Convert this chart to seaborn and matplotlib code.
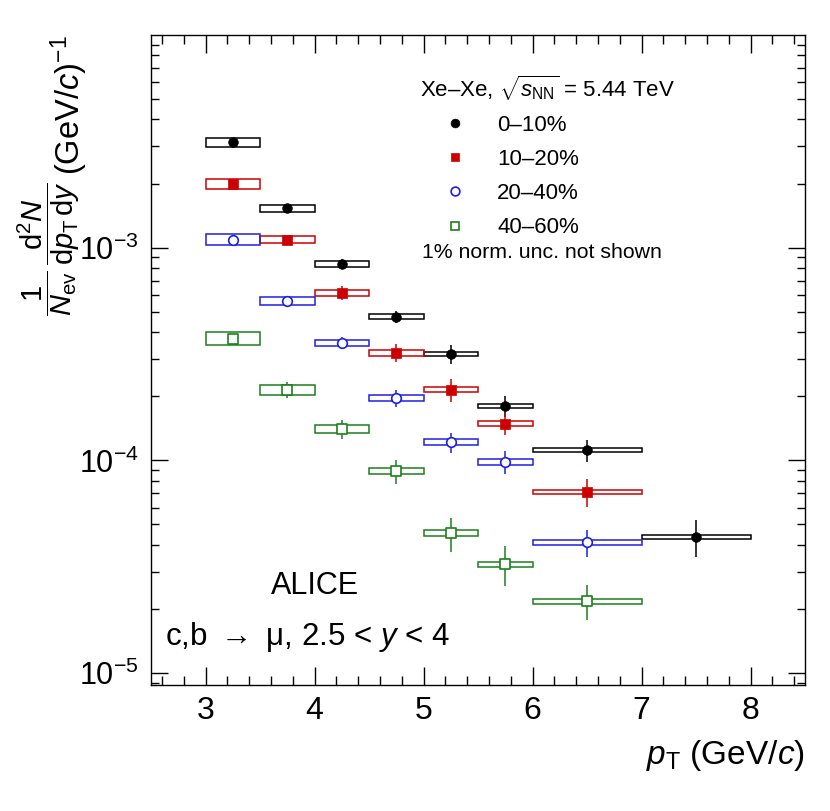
import seaborn as sns
import matplotlib
matplotlib.use("Agg")
import matplotlib.pyplot as plt
from matplotlib.patches import Rectangle
from matplotlib.lines import Line2D
from matplotlib.ticker import MultipleLocator, LogLocator, NullFormatter
import numpy as np
import pandas as pd

# pT bins (GeV/c)
bin_lo = [3.0, 3.5, 4.0, 4.5, 5.0, 5.5, 6.0, 7.0]
bin_hi = [3.5, 4.0, 4.5, 5.0, 5.5, 6.0, 7.0, 8.0]
pt_mid = [3.25, 3.75, 4.25, 4.75, 5.25, 5.75, 6.5, 7.5]

# yields per centrality class
y_0_10 = [3.12e-3, 1.53e-3, 8.4e-4, 4.73e-4, 3.17e-4, 1.80e-4, 1.12e-4, 4.37e-5]
y_10_20 = [2.0e-3, 1.09e-3, 6.14e-4, 3.2e-4, 2.15e-4, 1.485e-4, 7.1e-5]
y_20_40 = [1.09e-3, 5.63e-4, 3.57e-4, 1.97e-4, 1.22e-4, 9.85e-5, 4.13e-5]
y_40_60 = [3.73e-4, 2.15e-4, 1.41e-4, 8.93e-5, 4.56e-5, 3.26e-5, 2.18e-5]

# relative statistical uncertainties
stat_0_10 = [0.032, 0.043, 0.054, 0.070, 0.103, 0.113, 0.119, 0.197]
stat_10_20 = [0.032, 0.043, 0.076, 0.097, 0.124, 0.113, 0.150]
stat_20_40 = [0.032, 0.043, 0.070, 0.092, 0.108, 0.124, 0.145]
stat_40_60 = [0.043, 0.085, 0.104, 0.129, 0.182, 0.213, 0.187]

# relative systematic uncertainties
sys_0_10 = [0.051, 0.035, 0.031, 0.027, 0.024, 0.024, 0.022, 0.022]
sys_10_20 = [0.056, 0.039, 0.031, 0.031, 0.027, 0.027, 0.024]
sys_20_40 = [0.058, 0.043, 0.036, 0.033, 0.031, 0.031, 0.026]
sys_40_60 = [0.070, 0.054, 0.043, 0.036, 0.033, 0.027, 0.027]

labels = ["0–10%", "10–20%", "20–40%", "40–60%"]
colors = ["black", "#cc0000", "#1f1fe0", "#1b7f1b"]
markers = ["o", "s", "o", "s"]
filled = [True, True, False, False]

yields = [y_0_10, y_10_20, y_20_40, y_40_60]
stats = [stat_0_10, stat_10_20, stat_20_40, stat_40_60]
syss = [sys_0_10, sys_10_20, sys_20_40, sys_40_60]

rows = []
for lab, yy, st, sy in zip(labels, yields, stats, syss):
    for i in range(len(yy)):
        rows.append(dict(cent=lab, pt=pt_mid[i], lo=bin_lo[i], hi=bin_hi[i],
                         y=yy[i], stat=st[i] * yy[i], sys=sy[i] * yy[i]))
df = pd.DataFrame(rows)

sns.set_theme(style="ticks")
plt.rcParams['font.family'] = ['Liberation Sans', 'DejaVu Sans']
plt.rcParams['mathtext.fontset'] = 'custom'
plt.rcParams['mathtext.rm'] = 'Liberation Sans'
plt.rcParams['mathtext.it'] = 'Liberation Sans:italic'
plt.rcParams['mathtext.bf'] = 'Liberation Sans:bold'
for k in ['text.color', 'axes.labelcolor', 'xtick.color', 'ytick.color', 'axes.edgecolor']:
    plt.rcParams[k] = 'black'

fig = plt.figure(figsize=(8.3, 8.11), dpi=100)
ax = fig.add_axes([151/830, 1-685/811, 654/830, 650/811])

for lab, c, m, f in zip(labels, colors, markers, filled):
    d = df[df.cent == lab]
    # systematic boxes
    for _, r in d.iterrows():
        ax.add_patch(Rectangle((r.lo, r.y - r.sys), r.hi - r.lo, 2 * r.sys,
                               fill=False, edgecolor=c, linewidth=1.1, zorder=2))
    # statistical bars
    ax.errorbar(d.pt, d.y, yerr=d.stat, fmt='none', ecolor=c, elinewidth=1.1, zorder=3)
    # markers
    size = 48 if m == "o" else 44
    if f:
        sns.scatterplot(data=d, x="pt", y="y", ax=ax, marker=m, s=size,
                        color=c, edgecolor=c, linewidth=0.5, zorder=4, legend=False)
    else:
        sns.scatterplot(data=d, x="pt", y="y", ax=ax, marker=m, s=size,
                        facecolor="white", edgecolor=c, linewidth=1.2, zorder=4, legend=False)

ax.set_yscale("log")
ax.set_xlim(2.5, 8.5)
ax.set_ylim(8.8e-6, 9.98e-3)

ax.xaxis.set_major_locator(MultipleLocator(1))
ax.xaxis.set_minor_locator(MultipleLocator(0.2))
ax.yaxis.set_major_locator(LogLocator(base=10))
ax.yaxis.set_minor_locator(LogLocator(base=10, subs=np.arange(2, 10)))
ax.yaxis.set_minor_formatter(NullFormatter())

ax.tick_params(which='both', direction='in', top=True, right=True, width=1.0, colors='black')
ax.tick_params(axis='x', which='major', length=13, pad=8, labelsize=23)
ax.tick_params(axis='x', which='minor', length=6.5)
ax.tick_params(axis='y', which='major', length=12, pad=9, labelsize=22)
ax.tick_params(axis='y', which='minor', length=6)
for sp in ax.spines.values():
    sp.set_linewidth(1.0)
    sp.set_color('black')

ax.set_xlabel(r"$p_{\rm T}$ (GeV/$c$)", fontsize=24, loc='right')
ax.xaxis.set_label_coords(1.0, -0.081)

# y title: fraction as the axis label, units as a separate rotated text above it
ax.set_ylabel(r"$\dfrac{1}{N_{\rm ev}}\,\dfrac{{\rm d}^2N}{{\rm d}p_{\rm T}\,{\rm d}y}$",
              fontsize=21, loc='top')
ax.yaxis.set_label_coords(-0.106, 0.775)
ax.text(-0.108, 1.0, r"(GeV/$c$)$^{-1}$", transform=ax.transAxes, fontsize=23.5,
        rotation=90, rotation_mode='anchor', ha='right', va='baseline')

ax.text(0.411, 0.918, r"Xe–Xe, $\sqrt{s_{\rm NN}}$ = 5.44 TeV", transform=ax.transAxes,
        fontsize=16, ha='left', va='center')
ax.text(0.414, 0.665, "1% norm. unc. not shown", transform=ax.transAxes,
        fontsize=15.3, ha='left', va='center')
ax.text(0.251, 0.152, "ALICE", transform=ax.transAxes, fontsize=22, ha='center', va='center')
ax.text(0.021, 0.074, r"c,b $\rightarrow$ μ, 2.5 < $y$ < 4", transform=ax.transAxes,
        fontsize=22.5, ha='left', va='center')

handles = []
for lab, c, m, f in zip(labels, colors, markers, filled):
    handles.append(Line2D([], [], ls='none', marker=m, color=c,
                          markerfacecolor=c if f else 'white', markeredgecolor=c,
                          markersize=6.3, markeredgewidth=1.2 if not f else 0.5))
ax.legend(handles=handles, labels=labels, loc='upper left', bbox_to_anchor=(0.448, 0.877),
          frameon=False, fontsize=16, handlelength=1.0, handletextpad=1.39,
          labelspacing=0.59, borderpad=0, borderaxespad=0)

fig.savefig("out.png", dpi=100)
